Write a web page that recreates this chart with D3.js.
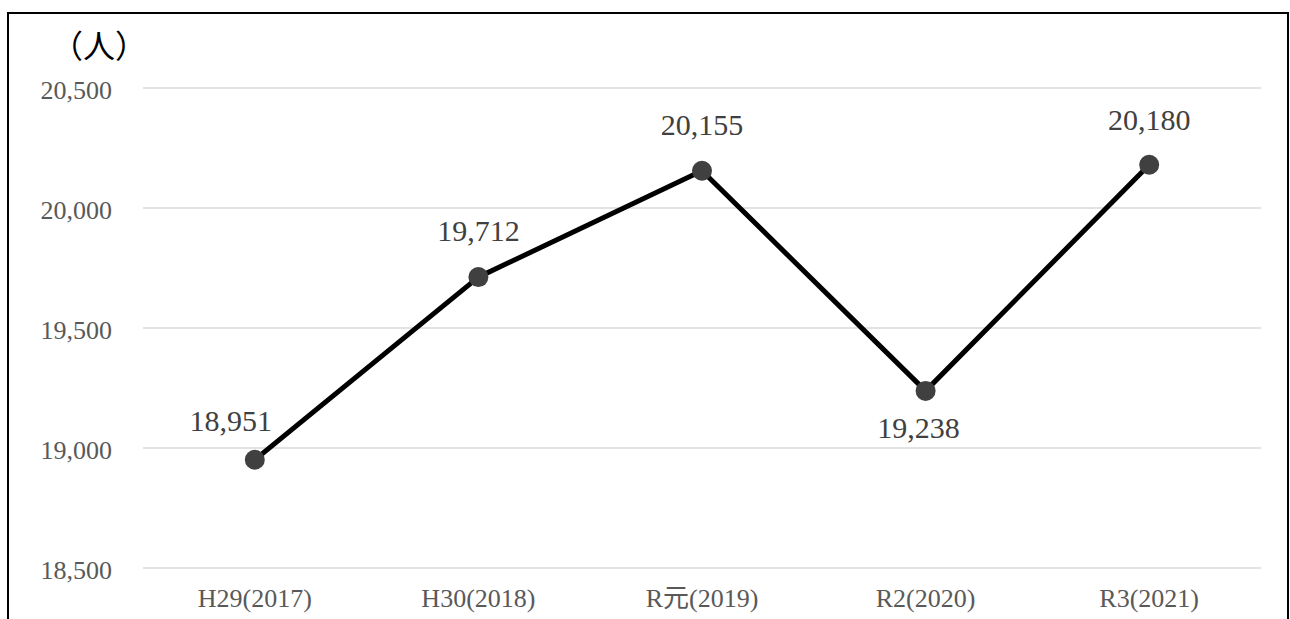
<!DOCTYPE html>
<html>
<head>
<meta charset="utf-8">
<script src="https://cdn.jsdelivr.net/npm/d3@7"></script>
<style>
  body { margin: 0; background: #fff; }
  text { font-family: "Liberation Serif", "DejaVu Serif", "Noto Sans CJK JP", serif; }
</style>
</head>
<body>
<div id="chart"></div>
<script>
// data
const years = ["H29(2017)", "H30(2018)", "R元(2019)", "R2(2020)", "R3(2021)"];
const people = [18951, 19712, 20155, 19238, 20180];
const yTicks = [18500, 19000, 19500, 20000, 20500];

const width = 1290, height = 619;
const margin = { top: 88, right: 29, bottom: 51, left: 143 };

// label nudges, as placed in the original
const labelDx = [-24, 0, 0, -7, 0];
const labelDy = [-29, -36, -36, 47, -35];

const svg = d3.select("#chart")
    .append("svg")
    .attr("width", width)
    .attr("height", height);

// outer frame
svg.append("rect")
    .attr("x", 8).attr("y", 13)
    .attr("width", 1280).attr("height", 640)
    .attr("fill", "none")
    .attr("stroke", "#000")
    .attr("stroke-width", 2);

const x = d3.scaleBand()
    .domain(years)
    .range([margin.left, width - margin.right]);

const y = d3.scaleLinear()
    .domain([18500, 20500])
    .range([height - margin.bottom, margin.top]);

// gridlines
svg.append("g")
    .selectAll("line")
    .data(yTicks)
    .join("line")
    .attr("x1", margin.left)
    .attr("x2", width - margin.right)
    .attr("y1", d => y(d))
    .attr("y2", d => y(d))
    .attr("stroke", "#d9d9d9")
    .attr("stroke-width", 1.5);

// y axis labels
const yAxis = svg.append("g")
    .attr("transform", `translate(${margin.left - 31},0)`)
    .call(d3.axisLeft(y).tickValues(yTicks).tickFormat(d3.format(",")).tickSize(0).tickPadding(0));
yAxis.select(".domain").remove();
yAxis.selectAll("text")
    .attr("dy", "0.4em")
    .attr("fill", "#595959")
    .style("font-size", "26px")
    .style("font-family", "'Liberation Serif', 'DejaVu Serif', serif");

// x axis labels
const xAxis = svg.append("g")
    .attr("transform", `translate(0,${height - margin.bottom})`)
    .call(d3.axisBottom(x).tickSize(0).tickPadding(21));
xAxis.select(".domain").remove();
xAxis.selectAll("text")
    .attr("fill", "#595959")
    .style("font-size", "26px")
    .style("font-family", "'Liberation Serif', 'Noto Sans CJK JP', serif");

// unit label
svg.append("text")
    .attr("x", 51)
    .attr("y", 58)
    .attr("fill", "#000")
    .style("font-size", "32px")
    .style("font-family", "'Noto Sans CJK JP', serif")
    .text("（人）");

const cx = (d, i) => x(years[i]) + x.bandwidth() / 2;

const line = d3.line()
    .x(cx)
    .y(d => y(d));

svg.append("path")
    .datum(people)
    .attr("fill", "none")
    .attr("stroke", "#000")
    .attr("stroke-width", 5)
    .attr("stroke-linejoin", "round")
    .attr("d", line);

svg.selectAll(".dot")
    .data(people)
    .join("circle")
    .attr("class", "dot")
    .attr("cx", cx)
    .attr("cy", d => y(d))
    .attr("r", 10)
    .attr("fill", "#404040");

svg.selectAll(".val")
    .data(people)
    .join("text")
    .attr("class", "val")
    .attr("x", (d, i) => cx(d, i) + labelDx[i])
    .attr("y", (d, i) => y(d) + labelDy[i])
    .attr("text-anchor", "middle")
    .attr("fill", "#404040")
    .style("font-size", "30px")
    .style("font-family", "'Liberation Serif', 'DejaVu Serif', serif")
    .text(d => d3.format(",")(d));
</script>
</body>
</html>
